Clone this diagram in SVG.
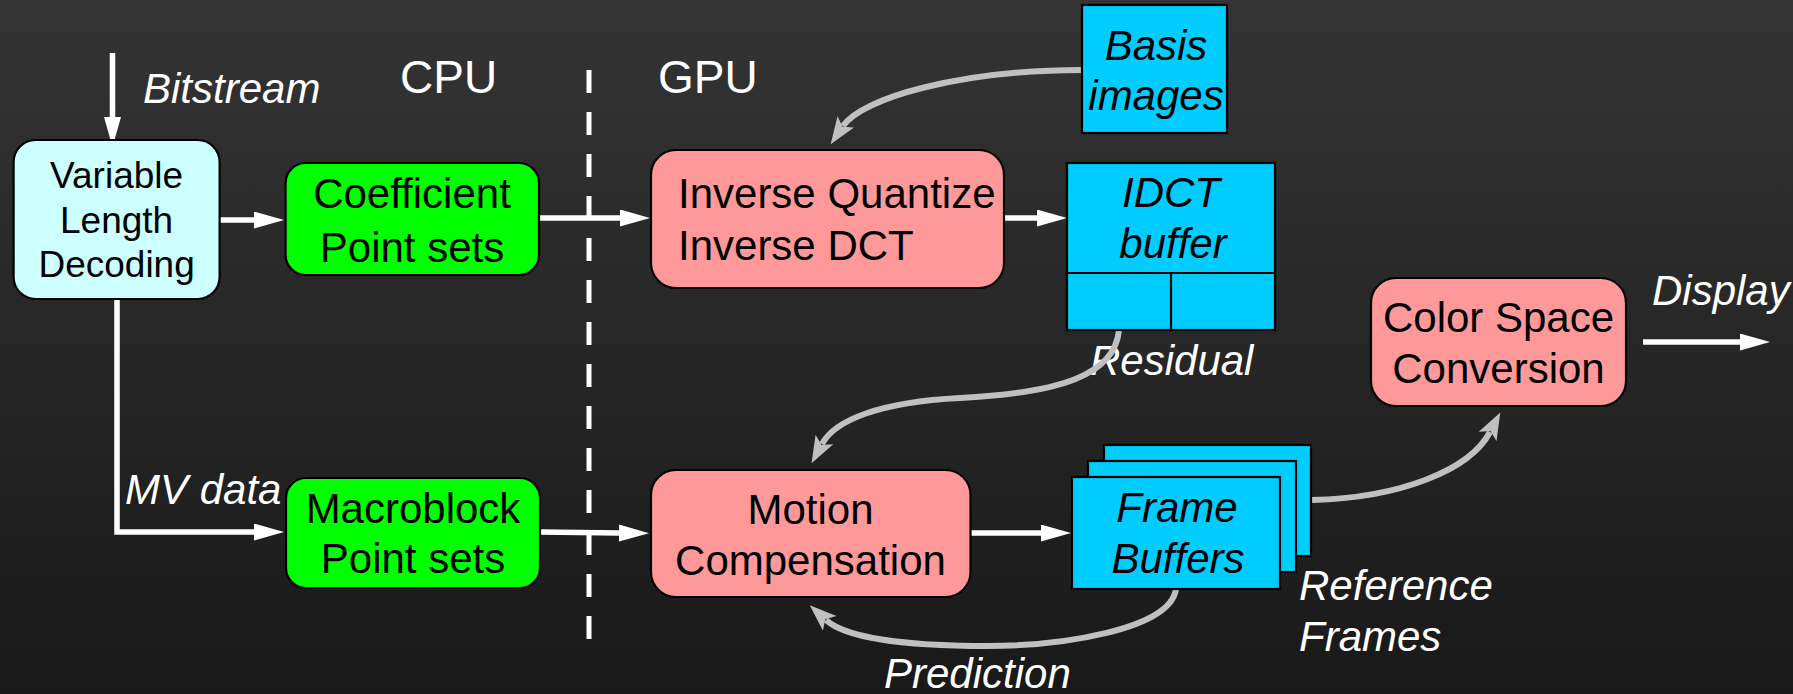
<svg xmlns="http://www.w3.org/2000/svg" width="1793" height="694" viewBox="0 0 1793 694">
<defs>
<linearGradient id="bg" x1="0" y1="0" x2="0" y2="1">
<stop offset="0" stop-color="#343434"/>
<stop offset="1" stop-color="#191919"/>
</linearGradient>
<marker id="wh" markerUnits="userSpaceOnUse" markerWidth="31" markerHeight="18" refX="1" refY="8.5" orient="auto" viewBox="0 0 31 18">
<path d="M0,0 L30,8.5 L0,17 z" fill="#FFFFFF"/>
</marker>
<marker id="gr" markerUnits="userSpaceOnUse" markerWidth="28" markerHeight="21" refX="5" refY="10" orient="auto" viewBox="0 0 28 21">
<path d="M0,0 L27,10 L0,20 L6,10 z" fill="#C0C0C0"/>
</marker>
</defs>
<style>
.box{stroke:#000;stroke-width:2.2}
.t{font-family:"Liberation Sans",Arial,sans-serif;font-size:42px;fill:#000}
.v{font-size:37px}
.c{text-anchor:middle}
.i{font-style:italic}
.lab{font-family:"Liberation Sans",Arial,sans-serif;font-size:42px;fill:#fff;font-style:italic}
.big{font-family:"Liberation Sans",Arial,sans-serif;font-size:46px;fill:#fff}
.w{fill:none;stroke:#fff;stroke-width:5.5}
.g{fill:none;stroke:#C0C0C0;stroke-width:6}
</style>
<rect x="0" y="0" width="1793" height="694" fill="url(#bg)"/>

<g id="labels">
<text class="big" x="400" y="93">CPU</text>
<text class="big" x="658" y="93">GPU</text>
<text class="lab" x="143" y="103">Bitstream</text>
<text class="lab" x="125" y="504">MV data</text>
<text class="lab" x="1090" y="375">Residual</text>
<text class="lab" x="1652" y="305">Display</text>
<text class="lab" x="1299" y="600">Reference</text>
<text class="lab" x="1299" y="651">Frames</text>
<text class="lab" x="884" y="688">Prediction</text>
</g>

<g id="divider">
<line x1="589" y1="70" x2="589" y2="639" stroke="#fff" stroke-width="5" stroke-dasharray="23 19"/>
</g>

<g id="connectors">
<path class="w" d="M112.5,53 L112.5,118" marker-end="url(#wh)"/>
<path class="w" d="M220,220 L255,220" marker-end="url(#wh)"/>
<path class="w" d="M539,218 L621,218" marker-end="url(#wh)"/>
<path class="w" d="M1004,218 L1038,218" marker-end="url(#wh)"/>
<path class="w" d="M117,300 L117,532 L255,532" marker-end="url(#wh)"/>
<path class="w" d="M540,532 L620,533" marker-end="url(#wh)"/>
<path class="w" d="M970,533 L1042,533" marker-end="url(#wh)"/>
<path class="w" d="M1643,342 L1741,342" marker-end="url(#wh)"/>
<path class="g" d="M1083,70 C960,70 862,98 843,126" marker-end="url(#gr)"/>
<path class="g" d="M1119,330 C1115,375 1060,393 960,398 C880,402 835,420 822,444" marker-end="url(#gr)"/>
<path class="g" d="M1312,500 C1400,498 1470,470 1490,432" marker-end="url(#gr)"/>
<path class="g" d="M1176,589 C1170,630 1060,646 987,646 C930,646 850,642 826,620" marker-end="url(#gr)"/>
</g>

<g id="vld">
<rect class="box" x="13.6" y="140" width="206" height="159" rx="22" fill="#CCFFFF"/>
<text class="t v c" x="116.6" y="188">Variable</text>
<text class="t v c" x="116.6" y="233">Length</text>
<text class="t v c" x="116.6" y="277">Decoding</text>
</g>

<g id="coefficient">
<rect class="box" x="285.6" y="163" width="253.4" height="112" rx="20" fill="#00FF00"/>
<text class="t c" x="412" y="208">Coefficient</text>
<text class="t c" x="412" y="262">Point sets</text>
</g>

<g id="macroblock">
<rect class="box" x="286" y="478" width="254" height="110" rx="20" fill="#00FF00"/>
<text class="t c" x="413" y="523">Macroblock</text>
<text class="t c" x="413" y="573">Point sets</text>
</g>

<g id="iq">
<rect class="box" x="651" y="150" width="353" height="138" rx="25" fill="#FF9999"/>
<text class="t" x="678" y="208">Inverse Quantize</text>
<text class="t" x="678" y="260">Inverse DCT</text>
</g>

<g id="mc">
<rect class="box" x="651" y="470" width="319.5" height="127" rx="25" fill="#FF9999"/>
<text class="t c" x="810.5" y="524">Motion</text>
<text class="t c" x="810.5" y="575">Compensation</text>
</g>

<g id="basis">
<rect class="box" x="1082" y="5" width="145" height="128" fill="#00CCFF"/>
<text class="t c i" x="1156" y="60">Basis</text>
<text class="t c i" x="1156" y="110">images</text>
</g>

<g id="idct">
<rect class="box" x="1067" y="163" width="208" height="167" fill="#00CCFF"/>
<line x1="1067" y1="273" x2="1275" y2="273" stroke="#000" stroke-width="2.2"/>
<line x1="1171" y1="273" x2="1171" y2="330" stroke="#000" stroke-width="2.2"/>
<text class="t c i" x="1171" y="207">IDCT</text>
<text class="t c i" x="1173" y="258">buffer</text>
</g>

<g id="csc">
<rect class="box" x="1371" y="278" width="255" height="128" rx="25" fill="#FF9999"/>
<text class="t c" x="1498.5" y="332">Color Space</text>
<text class="t c" x="1498.5" y="383">Conversion</text>
</g>

<g id="frames">
<rect class="box" x="1104" y="445" width="207" height="111" fill="#00CCFF"/>
<rect class="box" x="1088" y="461" width="208" height="111" fill="#00CCFF"/>
<rect class="box" x="1072" y="477" width="208" height="112" fill="#00CCFF"/>
<text class="t c i" x="1177" y="522">Frame</text>
<text class="t c i" x="1178" y="573">Buffers</text>
</g>
</svg>
